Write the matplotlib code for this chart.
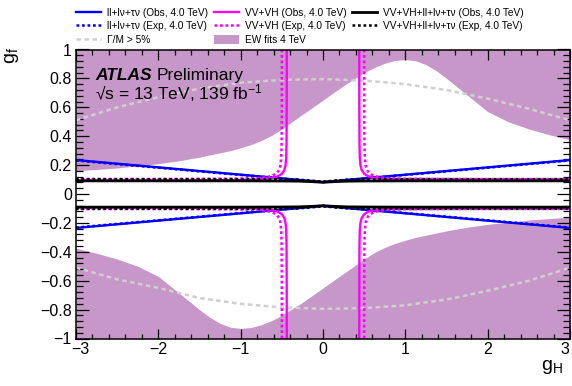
import matplotlib
matplotlib.use("Agg")
import matplotlib.pyplot as plt
from matplotlib.lines import Line2D
from matplotlib.patches import Patch
from matplotlib.ticker import MultipleLocator, FuncFormatter

plt.rcParams['font.family'] = ['Liberation Sans', 'DejaVu Sans']
plt.rcParams['mathtext.fontset'] = 'custom'
plt.rcParams['mathtext.rm'] = 'Liberation Sans'
plt.rcParams['mathtext.it'] = 'Liberation Sans:italic'
plt.rcParams['mathtext.bf'] = 'Liberation Sans:bold'

# ---- EW fits (4 TeV): excluded above ew_upper and below ew_lower ----
ew_gh = [-3.0, -2.75, -2.5, -2.25, -2.0, -1.75, -1.5, -1.375, -1.25, -1.125, -1.0, -0.875,
         -0.75, -0.625, -0.5, -0.25, 0.0, 0.25, 0.5, 0.625, 0.75, 0.875, 1.0, 1.125, 1.25,
         1.375, 1.5, 1.75, 2.0, 2.25, 2.5, 2.75, 3.0]
ew_upper = [0.16, 0.17, 0.18, 0.195, 0.21, 0.23, 0.255, 0.27, 0.285, 0.30, 0.32, 0.342,
            0.37, 0.405, 0.45, 0.55, 0.65, 0.75, 0.84, 0.876, 0.905, 0.924, 0.93, 0.922, 0.895,
            0.853, 0.80, 0.685, 0.57, 0.50, 0.45, 0.41, 0.375]
ew_lower = [-0.375, -0.41, -0.45, -0.50, -0.57, -0.685, -0.80, -0.853, -0.895, -0.922, -0.93,
            -0.924, -0.905, -0.876, -0.84, -0.75, -0.65, -0.55, -0.45, -0.405, -0.37, -0.342,
            -0.32, -0.30, -0.285, -0.27, -0.255, -0.23, -0.21, -0.195, -0.18, -0.17, -0.16]

# ---- Gamma/M > 5% contour ----
width_gh = [-3.0, -2.5, -2.0, -1.5, -1.0, -0.5, 0.0, 0.5, 1.0, 1.5, 2.0, 2.5, 3.0]
width_upper = [0.51, 0.60, 0.67, 0.73, 0.77, 0.79, 0.795, 0.785, 0.76, 0.72, 0.66, 0.59, 0.51]
width_lower = [-0.51, -0.59, -0.65, -0.72, -0.76, -0.785, -0.795, -0.79, -0.77, -0.73, -0.67, -0.60, -0.51]

# ---- ll+lv+tv limits ----
lep_gh = [-3.0, 0.0, 3.0]
lep_obs = [0.235, 0.083, 0.235]
lep_exp = [0.232, 0.082, 0.232]

# ---- VV+VH limits (one quadrant, gH >= 0, gf >= 0; mirrored in both axes) ----
vv_obs_gh = [0.44, 0.441, 0.443, 0.447, 0.455, 0.47, 0.50, 0.55, 0.62, 0.75, 1.0, 1.5, 2.0, 3.0]
vv_obs_gf = [1.0, 0.60, 0.35, 0.25, 0.20, 0.165, 0.14, 0.122, 0.110, 0.102, 0.097, 0.094, 0.093, 0.092]
vv_exp_gh = [0.50, 0.501, 0.503, 0.508, 0.517, 0.53, 0.56, 0.61, 0.68, 0.80, 1.0, 1.5, 2.0, 3.0]
vv_exp_gf = [1.0, 0.60, 0.35, 0.25, 0.20, 0.17, 0.145, 0.128, 0.117, 0.110, 0.106, 0.104, 0.103, 0.103]

# ---- combined VV+VH+ll+lv+tv limits ----
comb_gh = [-3.0, -1.0, -0.5, -0.3, -0.15, 0.0, 0.15, 0.3, 0.5, 1.0, 3.0]
comb_obs = [0.091, 0.091, 0.090, 0.089, 0.086, 0.081, 0.086, 0.089, 0.090, 0.091, 0.091]
comb_exp = [0.103, 0.103, 0.102, 0.099, 0.093, 0.085, 0.093, 0.099, 0.102, 0.103, 0.103]

x_ticks = [-3, -2, -1, 0, 1, 2, 3]

ew_color = '#c897c9'
width_color = '#cfcfcf'
blue = '#0000ff'
magenta = '#ff00ff'

W, H = 572, 386
fig = plt.figure(figsize=(W / 100, H / 100), dpi=100)
ax = fig.add_axes([76 / W, 1 - 338.5 / H, (570 - 76) / W, (338.5 - 49.5) / H])

ax.fill_between(ew_gh, ew_upper, 1.0, color=ew_color, lw=0, zorder=1)
ax.fill_between(ew_gh, -1.0, ew_lower, color=ew_color, lw=0, zorder=1)

dot_gray = (0, (1.8, 1.4))
dot = (0, (1.1, 1.1))

ax.plot(width_gh, width_upper, color=width_color, lw=1.8, ls=dot_gray, zorder=2)
ax.plot(width_gh, width_lower, color=width_color, lw=1.8, ls=dot_gray, zorder=2)

for sgn in (1, -1):
    ax.plot(lep_gh, [sgn * v for v in lep_exp], color=blue, lw=1.8, ls=dot, zorder=3)
    ax.plot(lep_gh, [sgn * v for v in lep_obs], color=blue, lw=1.7, zorder=3)

for sx in (1, -1):
    for sy in (1, -1):
        ax.plot([sx * v for v in vv_exp_gh], [sy * v for v in vv_exp_gf],
                color=magenta, lw=1.8, ls=dot, zorder=4)
        ax.plot([sx * v for v in vv_obs_gh], [sy * v for v in vv_obs_gf],
                color=magenta, lw=1.7, zorder=4)

for sgn in (1, -1):
    ax.plot(comb_gh, [sgn * v for v in comb_exp], color='black', lw=1.8, ls=dot, zorder=5)
    ax.plot(comb_gh, [sgn * v for v in comb_obs], color='black', lw=2.0, zorder=5)

ax.set_xlim(-3, 3)
ax.set_ylim(-1, 1)


def fmt(v, _):
    if abs(v) < 1e-9:
        return '0'
    return ('%g' % round(v, 6)).replace('-', '\u2212')


def fmt_x(v, pos):
    # the two end labels are placed separately below
    if abs(abs(v) - 3) < 1e-9:
        return ''
    return fmt(v, pos)


ax.set_xticks(x_ticks)
ax.xaxis.set_minor_locator(MultipleLocator(0.2))
ax.yaxis.set_major_locator(MultipleLocator(0.2))
ax.yaxis.set_minor_locator(MultipleLocator(0.04))
ax.xaxis.set_major_formatter(FuncFormatter(fmt_x))
ax.yaxis.set_major_formatter(FuncFormatter(fmt))
ax.tick_params(which='both', direction='in', top=True, right=True, width=0.9,
               labelsize=11.5, colors='black')
ax.tick_params(axis='x', which='major', length=7.2, pad=2.5)
ax.tick_params(axis='x', which='minor', length=3.6)
ax.tick_params(axis='y', which='major', length=9.4, pad=3)
ax.tick_params(axis='y', which='minor', length=4.7)
for sp in ax.spines.values():
    sp.set_linewidth(1.1)
    sp.set_zorder(6)

# end labels of the x axis, nudged inwards so they stay on the canvas
for xv, dx in ((x_ticks[0], 3.0), (x_ticks[-1], -3.6)):
    ax.annotate(fmt(xv, None), xy=(xv, 0), xycoords=('data', 'axes fraction'),
                xytext=(dx, -2.5), textcoords='offset points', ha='center', va='top',
                fontsize=11.5, annotation_clip=False)

fig.text(12 / W, 1 - 47 / H, r'g$_{\mathregular{f}}$', rotation=90, ha='center', va='top',
         fontsize=14)
fig.text(563 / W, 1 - 370 / H, r'g$_{\mathregular{H}}$', ha='right', va='baseline', fontsize=14)

atlas = fig.text(95 / W, 1 - 79.7 / H, 'ATLAS', fontsize=12.5, weight='bold', style='italic',
                 va='baseline')
ax.annotate('Preliminary', xy=(1, 0), xycoords=atlas, xytext=(3.6, 0),
            textcoords='offset points', fontsize=12.5, va='bottom', ha='left')
fig.text(95 / W, 1 - 99.7 / H, '\u221as = 13 TeV, 139 fb$^{\\mathregular{-1}}$',
         fontsize=12.5, va='baseline')

handles = [
    Line2D([], [], color=blue, lw=1.7),
    Line2D([], [], color=blue, lw=1.8, ls=dot),
    Line2D([], [], color=width_color, lw=1.8, ls=dot_gray),
    Line2D([], [], color=magenta, lw=1.7),
    Line2D([], [], color=magenta, lw=1.8, ls=dot),
    Patch(facecolor=ew_color, edgecolor='none'),
    Line2D([], [], color='black', lw=2.0),
    Line2D([], [], color='black', lw=1.8, ls=dot),
]
labels = [
    'll+l\u03bd+\u03c4\u03bd (Obs, 4.0 TeV)',
    'll+l\u03bd+\u03c4\u03bd (Exp, 4.0 TeV)',
    '\u0393/M > 5%',
    'VV+VH (Obs, 4.0 TeV)',
    'VV+VH (Exp, 4.0 TeV)',
    'EW fits 4 TeV',
    'VV+VH+ll+l\u03bd+\u03c4\u03bd (Obs, 4.0 TeV)',
    'VV+VH+ll+l\u03bd+\u03c4\u03bd (Exp, 4.0 TeV)',
]
fig.legend(handles, labels, ncol=3, loc='upper left', bbox_to_anchor=(76 / W, 1 - 7.5 / H),
           frameon=False, fontsize=7.3, handlelength=2.5, handletextpad=0.6,
           columnspacing=0.5, labelspacing=0.35, borderpad=0, borderaxespad=0,
           handleheight=1.0)

fig.savefig('out.png', dpi=100)
